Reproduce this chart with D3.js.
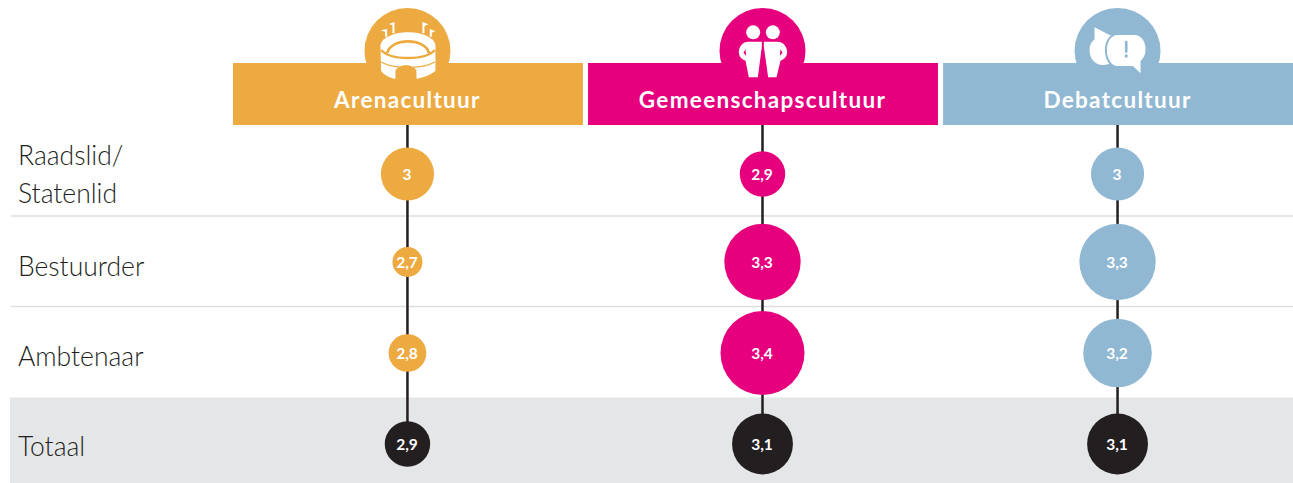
<!DOCTYPE html>
<html>

<head>
  <script src="https://d3js.org/d3.v7.min.js"></script>
  <style>
    body { margin: 0; background: #fff; }
    text { font-family: Lato, "Open Sans", sans-serif; }
  </style>
</head>

<body>
  <svg id="chart" width="1293" height="483"></svg>
  <script>
    const cultures = ["Arenacultuur", "Gemeenschapscultuur", "Debatcultuur"];
    const rows = ["Raadslid/ Statenlid", "Bestuurder", "Ambtenaar", "Totaal"];
    const arenaValues = [3, 2.7, 2.8, 2.9];
    const gemeenschapValues = [2.9, 3.3, 3.4, 3.1];
    const debatValues = [3, 3.3, 3.2, 3.1];
    const allValues = [arenaValues, gemeenschapValues, debatValues];
    const cultureColors = ["#edaa41", "#e6007e", "#91b8d2"];
    const totalColor = "#231f20";

    const svg = d3.select("svg#chart");
    const x = d3.scaleBand().domain(cultures).range([233, 1293]).paddingInner(0.0145);
    const rowTop = d3.scaleOrdinal().domain(rows).range([125, 216, 306.5, 397.5]);
    const rowMid = d3.scaleOrdinal().domain(rows).range([174, 262, 353, 444]);
    const labelMid = d3.scaleOrdinal().domain(rows).range([184, 276, 366, 456]);
    const r = d3.scaleLinear().domain([2.7, 3.4]).range([15, 42]);
    const cx = c => x(c) + x.bandwidth() / 2 - 0.5;
    const lastRow = rows[rows.length - 1];

    // grey band and row rules
    svg.append("rect").attr("x", 10).attr("y", rowTop(lastRow))
      .attr("width", 1283).attr("height", 483 - rowTop(lastRow)).attr("fill", "#e5e6e8");
    svg.selectAll(".rule").data(rows.slice(1, 3)).join("line")
      .attr("class", "rule")
      .attr("x1", 11).attr("x2", 1293)
      .attr("y1", d => rowTop(d)).attr("y2", d => rowTop(d))
      .attr("stroke", "#dcddde").attr("stroke-width", 1.5);

    // icon discs behind the headers
    svg.selectAll(".disc").data(cultures).join("circle")
      .attr("class", "disc")
      .attr("cx", d => cx(d)).attr("cy", 51).attr("r", 43)
      .attr("fill", (d, i) => cultureColors[i]);

    // headers
    svg.selectAll(".head").data(cultures).join("rect")
      .attr("class", "head")
      .attr("x", d => x(d)).attr("y", 63)
      .attr("width", x.bandwidth()).attr("height", 62)
      .attr("fill", (d, i) => cultureColors[i]);
    svg.selectAll(".headLabel").data(cultures).join("text")
      .attr("class", "headLabel")
      .attr("x", d => cx(d)).attr("y", 108)
      .attr("text-anchor", "middle")
      .attr("fill", "#fff")
      .style("font-size", "22.5px").style("font-weight", 700).style("letter-spacing", "1.3px")
      .text(d => d);

    // icons, paths traced at 3x so they get scaled down
    const icons = svg.selectAll(".icon").data(cultures).join("g")
      .attr("class", "icon")
      .attr("transform", (d, i) => `translate(${cx(d) - [201, 186, 189][i] / 3},0) scale(${1 / 3})`);

    const arena = icons.filter((d, i) => i == 0);
    arena.append("path").attr("fill", "#fff")
      .attr("d", "M156 100V76L145 72L162 66V100ZM246 100V66L264 73L252 78V100ZM134 110V95L120 91L140 87V110ZM268 110V87L285 94L274 98V110Z");
    arena.append("path").attr("fill", "#fff")
      .attr("d", "M120 137C120 115 160 97 203 97C246 97 285 115 285 137V212C272 224 250 232 228 236H162C145 232 130 224 122 212Z");
    arena.append("path").attr("fill", "none").attr("stroke", cultureColors[0]).attr("stroke-width", 8)
      .attr("d", "M140 160C150 112 255 112 266 160");
    arena.append("path").attr("fill", "none").attr("stroke", cultureColors[0]).attr("stroke-width", 7)
      .attr("d", "M122 150C150 182 255 182 283 150");
    arena.append("path").attr("fill", "none").attr("stroke", cultureColors[0]).attr("stroke-width", 4)
      .attr("d", "M122 186C160 208 245 208 283 186");
    arena.append("path").attr("fill", cultureColors[0])
      .attr("d", "M165 240V212C175 190 218 190 228 212V240Z");

    const gemeenschap = icons.filter((d, i) => i == 1);
    gemeenschap.selectAll("circle").data([158, 217]).join("circle")
      .attr("cx", d => d).attr("cy", 97).attr("r", 21).attr("fill", "#fff");
    gemeenschap.append("path").attr("fill", "#fff").attr("fill-rule", "evenodd")
      .attr("d", "M184 125H143C125 125 115 142 115 156C115 168 122 178 135 182L145 232H172L184 140ZM135 148L129 158L137 168Z");
    gemeenschap.append("path").attr("fill", "#fff").attr("fill-rule", "evenodd")
      .attr("d", "M190 125H231C250 125 260 142 260 156C260 168 252 178 240 182L228 232H203L190 140ZM240 148L246 158L238 168Z");

    const debat = icons.filter((d, i) => i == 2);
    debat.append("path").attr("fill", "#fff")
      .attr("d", "M120 82L165 105C180 107 195 120 195 148C195 180 170 195 145 195C120 195 105 175 105 150C105 135 112 125 120 118Z");
    debat.append("path").attr("fill", "#fff").attr("stroke", cultureColors[2]).attr("stroke-width", 12)
      .attr("paint-order", "stroke")
      .attr("d", "M190 105H240C260 105 273 125 273 147C273 165 265 177 258 183V220L235 198H190C170 198 157 175 157 150C157 125 170 105 190 105Z");
    debat.append("rect").attr("x", 211).attr("y", 122).attr("width", 8).attr("height", 36).attr("rx", 3).attr("fill", cultureColors[2]);
    debat.append("circle").attr("cx", 215).attr("cy", 168).attr("r", 5).attr("fill", cultureColors[2]);

    // stems
    svg.selectAll(".stem").data(cultures).join("line")
      .attr("class", "stem")
      .attr("x1", d => cx(d)).attr("x2", d => cx(d))
      .attr("y1", 125).attr("y2", rowMid(lastRow))
      .attr("stroke", totalColor).attr("stroke-width", 2.5);

    // bubbles, one group per culture
    const columns = svg.selectAll(".column").data(cultures).join("g")
      .attr("class", "column")
      .attr("transform", d => `translate(${cx(d)},0)`);
    const cells = columns.selectAll(".cell")
      .data((d, i) => rows.map((row, j) => ({ row: row, value: allValues[i][j], color: cultureColors[i] })))
      .join("g").attr("class", "cell");
    cells.append("circle")
      .attr("cy", d => rowMid(d.row))
      .attr("r", d => r(d.value))
      .attr("fill", d => d.row == lastRow ? totalColor : d.color);
    cells.append("text")
      .attr("x", -0.5)
      .attr("y", d => rowMid(d.row) + 6)
      .attr("text-anchor", "middle")
      .attr("fill", "#fff")
      .style("font-size", "15.5px").style("font-weight", 700)
      .text(d => String(d.value).replace(".", ","));

    // row labels
    const labels = svg.selectAll(".rowLabel").data(rows).join("text")
      .attr("class", "rowLabel")
      .attr("fill", "#231f20")
      .style("font-size", "26.5px").style("font-weight", 300);
    labels.selectAll("tspan")
      .data(d => d.split(" ").map((t, i, a) => ({ t: t, i: i, n: a.length, row: d })))
      .join("tspan")
      .attr("x", 18)
      .attr("y", d => labelMid(d.row) + (d.i - (d.n - 1) / 2) * 38)
      .text(d => d.t);
  </script>
</body>

</html>
